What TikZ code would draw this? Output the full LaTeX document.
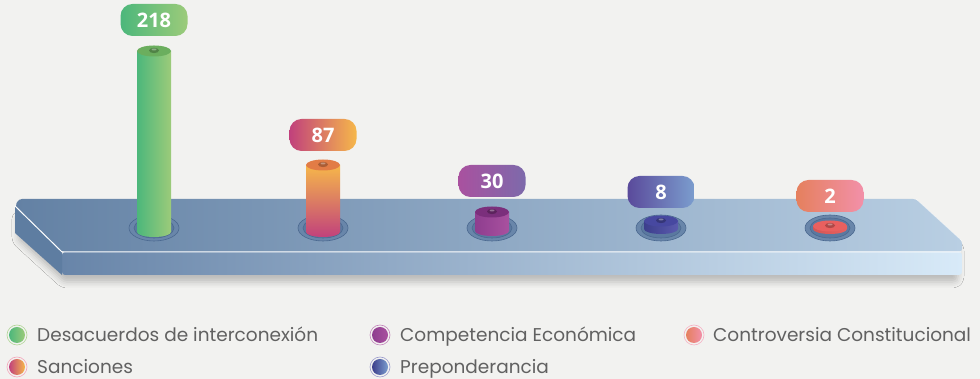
\documentclass[tikz,border=0pt]{standalone}
\usepackage{fontspec}
\setmainfont{Poppins}
\newfontfamily\valfont{Open Sans}
\usetikzlibrary{shadows.blur}

\definecolor{bg}{HTML}{F2F2F0}
\definecolor{legendgray}{HTML}{616161}
\definecolor{platL}{HTML}{6381A4}
\definecolor{platR}{HTML}{B9CFE3}
\definecolor{frontL}{HTML}{6885A9}
\definecolor{frontR}{HTML}{D8EAF8}
\definecolor{sideC}{HTML}{5E7DA1}
\definecolor{wellline}{HTML}{4B6990}
\definecolor{wellfill}{HTML}{5B79A0}
\definecolor{greenL}{HTML}{4CB77B}
\definecolor{greenR}{HTML}{9CCB7A}
\definecolor{greenCap}{HTML}{6BAE5E}
\definecolor{orangeT}{HTML}{F6B74A}
\definecolor{magentaB}{HTML}{C1417C}
\definecolor{orangeCap}{HTML}{E27C46}
\definecolor{purpleL}{HTML}{8E3D8F}
\definecolor{purpleR}{HTML}{A9519F}
\definecolor{purpleCap}{HTML}{7B2F7C}
\definecolor{purpleLbl}{HTML}{7D6AAB}
\definecolor{blueL}{HTML}{3C3E8C}
\definecolor{blueR}{HTML}{5B5BAE}
\definecolor{blueCap}{HTML}{4748A0}
\definecolor{blueLblL}{HTML}{5A4A9B}
\definecolor{blueLblR}{HTML}{7B9DCE}
\definecolor{redC}{HTML}{E9605F}
\definecolor{redLblL}{HTML}{E5805E}
\definecolor{redLblR}{HTML}{F290A9}

\tikzset{
  valbox/.style={rounded corners=12pt, minimum width=67pt, minimum height=32pt,
    inner sep=0pt, text=white, font=\valfont\bfseries\fontsize{20}{20}\selectfont},
  legtext/.style={anchor=base west, inner sep=0pt, text=legendgray,
    font=\fontsize{18.5}{18.5}\selectfont},
  wellring/.style={draw=wellline, line width=0.6pt}
}

% body of a bar: x, top, bottom, shading, cap colour
\newcommand{\cylbar}[5]{%
  \shade[#4] (#1-17,#2) -- (#1-17,#3) arc[start angle=180, end angle=360, x radius=17, y radius=5]
    -- (#1+17,#2) -- cycle;
  \fill[#5] (#1,#2) ellipse[x radius=17, y radius=5.5];
  \fill[#5!75!black] (#1,#2+0.5) ellipse[x radius=5, y radius=2.6];
  \fill[white, opacity=0.35] (#1,#2+1.5) ellipse[x radius=2.5, y radius=1];
}

\begin{document}
\begin{tikzpicture}[x=1pt, y=1pt]
		% Background
		\fill[bg] (0,0) rectangle (980,379);
		\useasboundingbox (0,0) rectangle (980,379);

		% Platform
		\fill[bg, rounded corners=3pt, blur shadow={shadow xshift=0pt, shadow yshift=-7pt,
		  shadow blur radius=6pt, shadow opacity=22}]
		  (18,170) -- (916,176) -- (958,138) -- (958,107) -- (955,104)
		  -- (64,104) -- (18,146) -- cycle;
		\shade[left color=platL, right color=platR, rounded corners=3pt]
		  (15,173) -- (19,180) -- (916,180) -- (962,138) -- (962,127) -- (62,127) -- cycle;
		\shade[left color=frontL, right color=frontR, rounded corners=3pt]
		  (62,127) -- (962,127) -- (962,104) -- (62,104) -- cycle;
		\fill[sideC] (15,173) -- (62,127) -- (62,104) -- (15,146) -- cycle;
		\draw[white, line width=1pt] (15,173) -- (62,127) -- (961,127);
		\draw[white, opacity=0.5, line width=0.6pt] (916,180) -- (962,138);

		% Wells
		\foreach \x in {154,323,492,661,830} {
		  \draw[wellring, fill=wellfill!85!platR] (\x,151) ellipse[x radius=25, y radius=13];
		  \draw[wellring, fill=wellfill] (\x,151) ellipse[x radius=20, y radius=10];
		}

		% Bars
		\cylbar{154}{328}{147}{left color=greenL, right color=greenR}{greenCap}
		\cylbar{323}{214}{147}{top color=orangeT, bottom color=magentaB}{orangeCap}
		\cylbar{492}{167}{148}{left color=purpleL, right color=purpleR}{purpleCap}
		\cylbar{661}{158}{150}{left color=blueL, right color=blueR}{blueCap}
		\cylbar{830}{153}{150}{left color=redC!90!black, right color=redC}{redC}

		% Values
		\node[valbox, left color=greenL, right color=greenR] (v218) at (154,359) {218};
		\node[valbox, left color=magentaB, right color=orangeT] (v87) at (323,244) {87};
		\node[valbox, left color=purpleR, right color=purpleLbl] (v30) at (492,198) {30};
		\node[valbox, left color=blueLblL, right color=blueLblR] (v8) at (661,187) {8};
		\node[valbox, left color=redLblL, right color=redLblR] (v2) at (830,183) {2};

		% Legend
		\shade[left color=greenL, right color=greenR] (17,44) circle[radius=8];
		\draw[greenR!80!white, line width=0.6pt] (17,44) circle[radius=10];
		\node[legtext] (lgDes) at (37,37) {Desacuerdos de interconexión};
		%
		\shade[left color=magentaB, right color=orangeT] (17,12) circle[radius=8];
		\draw[redLblR!80!white, line width=0.6pt] (17,12) circle[radius=10];
		\node[legtext] (lgSan) at (37,5) {Sanciones};
		%
		\shade[left color=purpleL, right color=purpleR] (380,44) circle[radius=8];
		\draw[purpleR!70!white, line width=0.6pt] (380,44) circle[radius=10];
		\node[legtext] (lgCom) at (400,37) {Competencia Económica};
		%
		\shade[left color=blueL, right color=blueLblR] (380,12) circle[radius=8];
		\draw[blueR!60!white, line width=0.6pt] (380,12) circle[radius=10];
		\node[legtext] (lgPre) at (400,5) {Preponderancia};
		%
		\shade[left color=redLblL, right color=redLblR] (694,44) circle[radius=8];
		\draw[redLblR!70!white, line width=0.6pt] (694,44) circle[radius=10];
		\node[legtext] (lgCon) at (713,37) {Controversia Constitucional};
	\end{tikzpicture}
\end{document}
